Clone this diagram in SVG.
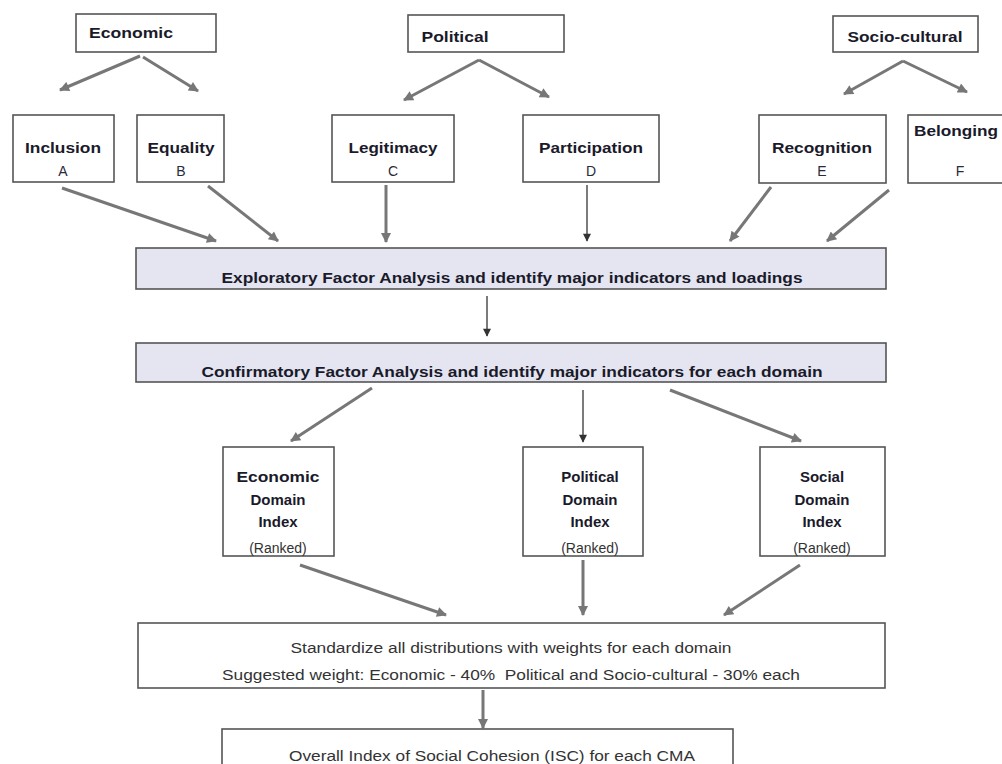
<svg xmlns="http://www.w3.org/2000/svg" width="1002" height="764" viewBox="0 0 1002 764">
<defs>
<style>
.box{fill:#fff;stroke:#555;stroke-width:1.6}
.band{fill:#e4e5f1;stroke:#555;stroke-width:1.6}
.t{font-family:"Liberation Sans",Arial,sans-serif;font-weight:bold;font-size:15px;fill:#1a1a2a;text-anchor:middle}
.r{font-family:"Liberation Sans",Arial,sans-serif;font-size:14px;fill:#2a2a3a;text-anchor:middle}
.n{font-family:"Liberation Sans",Arial,sans-serif;font-size:14px;fill:#333;text-anchor:middle}
.c{stroke:#777;stroke-width:3;fill:none}
.v{stroke:#444;stroke-width:1.4;fill:none}
</style>
<marker id="ah" viewBox="0 0 10 10" refX="9" refY="5" markerWidth="12" markerHeight="10" markerUnits="userSpaceOnUse" orient="auto">
<path d="M0,0 L10,5 L0,10 z" fill="#777"/>
</marker>
<marker id="av" viewBox="0 0 10 10" refX="9" refY="5" markerWidth="9" markerHeight="8" markerUnits="userSpaceOnUse" orient="auto">
<path d="M0,0 L10,5 L0,10 z" fill="#333"/>
</marker>
</defs>
<rect width="1002" height="764" fill="#fff"/>

<g id="connectors">
<line class="c" x1="140" y1="56" x2="60" y2="90" marker-end="url(#ah)"/>
<line class="c" x1="143" y1="57" x2="198" y2="91" marker-end="url(#ah)"/>
<line class="c" x1="479" y1="60" x2="404" y2="100" marker-end="url(#ah)"/>
<line class="c" x1="479" y1="60" x2="549" y2="97" marker-end="url(#ah)"/>
<line class="c" x1="903" y1="61" x2="844" y2="94" marker-end="url(#ah)"/>
<line class="c" x1="903" y1="61" x2="967" y2="92" marker-end="url(#ah)"/>
<line class="c" x1="62" y1="188" x2="216" y2="241" marker-end="url(#ah)"/>
<line class="c" x1="208" y1="186" x2="278" y2="241" marker-end="url(#ah)"/>
<line class="c" x1="386" y1="185" x2="386" y2="242" marker-end="url(#ah)"/>
<line class="v" x1="587" y1="185" x2="587" y2="241" marker-end="url(#av)"/>
<line class="c" x1="771" y1="187" x2="730" y2="241" marker-end="url(#ah)"/>
<line class="c" x1="889" y1="190" x2="827" y2="241" marker-end="url(#ah)"/>
<line class="v" x1="487" y1="296" x2="487" y2="336" marker-end="url(#av)"/>
<line class="c" x1="372" y1="388" x2="291" y2="441" marker-end="url(#ah)"/>
<line class="v" x1="583" y1="390" x2="583" y2="442" marker-end="url(#av)"/>
<line class="c" x1="670" y1="390" x2="801" y2="441" marker-end="url(#ah)"/>
<line class="c" x1="300" y1="565" x2="446" y2="615" marker-end="url(#ah)"/>
<line class="c" x1="583" y1="560" x2="583" y2="615" marker-end="url(#ah)"/>
<line class="c" x1="800" y1="565" x2="724" y2="615" marker-end="url(#ah)"/>
<line class="c" x1="483" y1="690" x2="483" y2="728" marker-end="url(#ah)"/>
</g>

<g id="economic"><rect class="box" x="76" y="14" width="140" height="38"/><text class="t" x="131" y="38" textLength="84" lengthAdjust="spacingAndGlyphs">Economic</text></g>
<g id="political"><rect class="box" x="408" y="15" width="156" height="37"/><text class="t" x="455" y="42" textLength="67" lengthAdjust="spacingAndGlyphs">Political</text></g>
<g id="sociocultural"><rect class="box" x="833" y="16" width="145" height="36"/><text class="t" x="905" y="42" textLength="115" lengthAdjust="spacingAndGlyphs">Socio-cultural</text></g>

<g id="inclusion"><rect class="box" x="13" y="115" width="101" height="67"/><text class="t" x="63" y="153" textLength="76" lengthAdjust="spacingAndGlyphs">Inclusion</text><text class="r" x="63" y="176">A</text></g>
<g id="equality"><rect class="box" x="137" y="115" width="87" height="67"/><text class="t" x="181" y="153" textLength="67" lengthAdjust="spacingAndGlyphs">Equality</text><text class="r" x="181" y="176">B</text></g>
<g id="legitimacy"><rect class="box" x="332" y="115" width="122" height="67"/><text class="t" x="393" y="153" textLength="89" lengthAdjust="spacingAndGlyphs">Legitimacy</text><text class="r" x="393" y="176">C</text></g>
<g id="participation"><rect class="box" x="523" y="115" width="136" height="67"/><text class="t" x="591" y="153" textLength="104" lengthAdjust="spacingAndGlyphs">Participation</text><text class="r" x="591" y="176">D</text></g>
<g id="recognition"><rect class="box" x="759" y="115" width="127" height="68"/><text class="t" x="822" y="153" textLength="100" lengthAdjust="spacingAndGlyphs">Recognition</text><text class="r" x="822" y="176">E</text></g>
<g id="belonging"><rect class="box" x="908" y="115" width="100" height="68"/><text class="t" x="956" y="136" textLength="84" lengthAdjust="spacingAndGlyphs">Belonging</text><text class="r" x="960" y="176">F</text></g>

<g id="efa"><rect class="band" x="136" y="248" width="750" height="41"/><text class="t" x="512" y="283" font-size="14" textLength="581" lengthAdjust="spacingAndGlyphs">Exploratory Factor Analysis and identify major indicators and loadings</text></g>
<g id="cfa"><rect class="band" x="136" y="343" width="750" height="39"/><text class="t" x="512" y="377" font-size="14" textLength="621" lengthAdjust="spacingAndGlyphs">Confirmatory Factor Analysis and identify major indicators for each domain</text></g>

<g id="econ-index"><rect class="box" x="223" y="447" width="111" height="109"/><text class="t" x="278" y="482" textLength="83" lengthAdjust="spacingAndGlyphs">Economic</text><text class="t" x="278" y="505">Domain</text><text class="t" x="278" y="527">Index</text><text class="n" x="278" y="553">(Ranked)</text></g>
<g id="pol-index"><rect class="box" x="523" y="447" width="120" height="109"/><text class="t" x="590" y="482">Political</text><text class="t" x="590" y="505">Domain</text><text class="t" x="590" y="527">Index</text><text class="n" x="590" y="553">(Ranked)</text></g>
<g id="soc-index"><rect class="box" x="760" y="447" width="125" height="109"/><text class="t" x="822" y="482">Social</text><text class="t" x="822" y="505">Domain</text><text class="t" x="822" y="527">Index</text><text class="n" x="822" y="553">(Ranked)</text></g>

<g id="standardize"><rect class="box" x="138" y="623" width="747" height="65"/><text class="n" x="511" y="653" textLength="441" lengthAdjust="spacingAndGlyphs">Standardize all distributions with weights for each domain</text><text class="n" x="511" y="680" textLength="578" lengthAdjust="spacingAndGlyphs" xml:space="preserve">Suggested weight: Economic - 40%&#160; Political and Socio-cultural - 30% each</text></g>
<g id="overall"><rect class="box" x="222" y="729" width="511" height="45"/><text class="n" x="492" y="761" textLength="406" lengthAdjust="spacingAndGlyphs">Overall Index of Social Cohesion (ISC) for each CMA</text></g>
</svg>
